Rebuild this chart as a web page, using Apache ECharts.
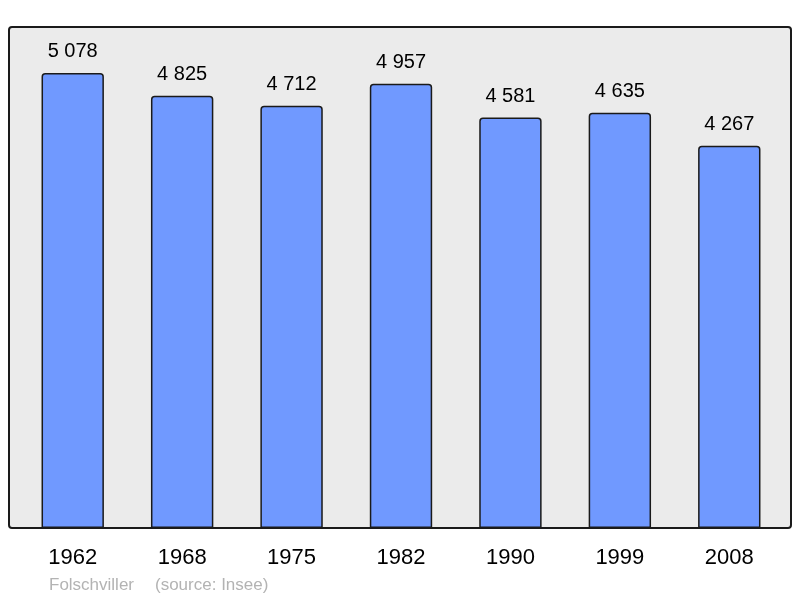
<!DOCTYPE html>
<html>
<head>
    <meta charset="utf-8">
    <title>Folschviller</title>
    <style type="text/css">
        * { margin: 0; padding: 0; }
        body { background: #fff; }
        #canvas { width: 800px; height: 598px; }
    </style>
</head>
<body>
<div id="canvas"></div>
<script src="https://cdn.jsdelivr.net/npm/echarts@6/dist/echarts.min.js"></script>
<script type="text/javascript">
    // données
    var years = ['1962', '1968', '1975', '1982', '1990', '1999', '2008'];
    var population = [5078, 4825, 4712, 4957, 4581, 4635, 4267];
    var footerName = 'Folschviller';
    var footerSource = '(source: Insee)';

    function fmt(v) {
        return String(v).replace(/\B(?=(\d{3})+(?!\d))/g, ' ');
    }

    var myChart = echarts.init(document.getElementById('canvas'));

    var option = {
        animation: false,
        textStyle: { fontFamily: 'Liberation Sans, Arial, sans-serif' },
        graphic: [
            {
                type: 'rect',
                shape: { x: 9, y: 27, width: 782, height: 501, r: 3 },
                style: { fill: '#ebebeb', stroke: '#1a1a1a', lineWidth: 2 },
                z: -10
            },
            {
                type: 'text',
                left: 49, top: 577,
                style: { text: footerName, fill: '#b3b3b3', fontSize: 17, fontFamily: 'Liberation Sans, Arial, sans-serif' }
            },
            {
                type: 'text',
                left: 155, top: 577,
                style: { text: footerSource, fill: '#b3b3b3', fontSize: 17, fontFamily: 'Liberation Sans, Arial, sans-serif' }
            }
        ],
        grid: { left: 18, right: 16, top: 27, bottom: 70, containLabel: false },
        xAxis: {
            type: 'category',
            data: years,
            axisLine: { show: false },
            axisTick: { show: false },
            axisLabel: { color: '#000', fontSize: 22, margin: 19 }
        },
        yAxis: {
            type: 'value',
            min: 0,
            max: 5591,
            show: false,
            splitLine: { show: false }
        },
        series: [{
            type: 'bar',
            data: population,
            barWidth: '57%',
            itemStyle: {
                color: '#7099ff',
                borderColor: '#1a1a1a',
                borderWidth: 1.5,
                borderRadius: [3, 3, 0, 0]
            },
            label: {
                show: true,
                position: 'top',
                distance: 11,
                color: '#000',
                fontSize: 20,
                formatter: function (p) { return fmt(p.value); }
            }
        }]
    };

    myChart.setOption(option);
</script>
</body>
</html>
